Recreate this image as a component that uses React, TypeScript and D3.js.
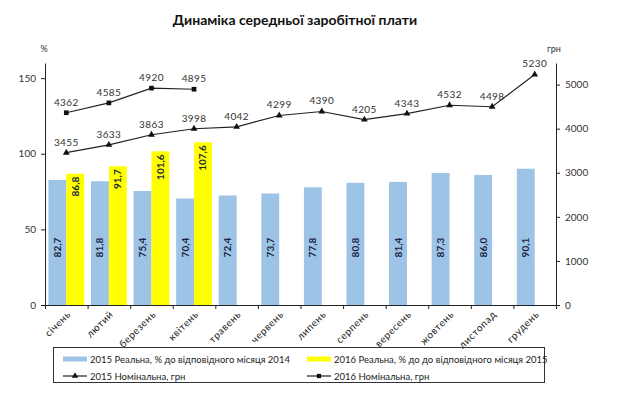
import * as d3 from 'd3'
import { useEffect, useRef } from 'react'

const months = [
  'січень', 'лютий', 'березень', 'квітень', 'травень', 'червень',
  'липень', 'серпень', 'вересень', 'жовтень', 'листопад', 'грудень',
]
const real2015 = [82.7, 81.8, 75.4, 70.4, 72.4, 73.7, 77.8, 80.8, 81.4, 87.3, 86.0, 90.1]
const real2016 = [86.8, 91.7, 101.6, 107.6]
const nominal2015 = [3455, 3633, 3863, 3998, 4042, 4299, 4390, 4205, 4343, 4532, 4498, 5230]
const nominal2016 = [4362, 4585, 4920, 4895]
const leftTicks = [0, 50, 100, 150]
const rightTicks = [0, 1000, 2000, 3000, 4000, 5000]

const FONT = 'Lato, "Open Sans", sans-serif'
const fmt = (v: number) => v.toFixed(1).replace('.', ',')

const App = () => {
  const ref = useRef<SVGSVGElement>(null)

  useEffect(() => {
    const svg = d3.select(ref.current)
    svg.selectAll('*').remove()

    const left = 45,
      right = 556,
      top = 63,
      bottom = 305

    const x = d3.scaleBand<string>().domain(months).range([left, right])
    const y = d3.scaleLinear().domain([0, 160]).range([bottom, top])
    const y2 = d3.scaleLinear().domain([0, 5490]).range([bottom, top])
    const bw = x.bandwidth() * 0.42
    const pad = (x.bandwidth() - 2 * bw) / 2

    svg
      .append('text')
      .attr('x', 295)
      .attr('y', 25)
      .attr('text-anchor', 'middle')
      .style('font', `bold 14px ${FONT}`)
      .attr('fill', '#111')
      .text('Динаміка середньої заробітної плати')

    // bars
    svg
      .append('g')
      .selectAll('rect')
      .data(real2015)
      .join('rect')
      .attr('x', (d, i) => x(months[i])! + pad)
      .attr('y', (d) => y(d))
      .attr('width', bw)
      .attr('height', (d) => bottom - y(d))
      .attr('fill', '#9dc3e6')

    svg
      .append('g')
      .selectAll('rect')
      .data(real2016)
      .join('rect')
      .attr('x', (d, i) => x(months[i])! + pad + bw)
      .attr('y', (d) => y(d))
      .attr('width', bw)
      .attr('height', (d) => bottom - y(d))
      .attr('fill', '#ffff00')

    // bar labels
    svg
      .append('g')
      .selectAll('text')
      .data(real2015)
      .join('text')
      .attr('transform', (d, i) => `translate(${x(months[i])! + pad + bw / 2 + 3.5},${y(38)}) rotate(-90)`)
      .attr('text-anchor', 'middle')
      .style('font', `bold 10px ${FONT}`)
      .attr('fill', '#1b2540')
      .text(fmt)

    svg
      .append('g')
      .selectAll('text')
      .data(real2016)
      .join('text')
      .attr('transform', (d, i) => `translate(${x(months[i])! + pad + bw * 1.5 + 3.5},${y(d) + 3}) rotate(-90)`)
      .attr('text-anchor', 'end')
      .style('font', `bold 10px ${FONT}`)
      .attr('fill', '#1b2540')
      .text(fmt)

    // axes
    const axisColor = '#222'
    const gl = svg.append('g').attr('transform', `translate(${left},0)`).call(d3.axisLeft(y).tickValues(leftTicks).tickSize(4).tickSizeOuter(0))
    const gr = svg
      .append('g')
      .attr('transform', `translate(${right},0)`)
      .call(d3.axisRight(y2).tickValues(rightTicks).tickFormat(d3.format('d')).tickSize(4).tickSizeOuter(0))
    const gx = svg
      .append('g')
      .attr('transform', `translate(0,${bottom})`)
      .call(d3.axisBottom(d3.scaleLinear().domain([0, 12]).range([left, right])).ticks(12).tickSize(4).tickFormat(() => ''))
    for (const g of [gl, gr, gx]) {
      g.select('.domain').attr('stroke', axisColor)
      g.selectAll('line').attr('stroke', axisColor)
      g.selectAll('text').style('font', `10px ${FONT}`).attr('fill', '#333')
    }
    gl.selectAll('text').attr('dx', -2)
    gr.selectAll('text').attr('dx', 2)

    svg.append('text').attr('x', 44).attr('y', 52).attr('text-anchor', 'middle').style('font', `9px ${FONT}`).attr('fill', '#333').text('%')
    svg.append('text').attr('x', 554).attr('y', 52).attr('text-anchor', 'middle').style('font', `9px ${FONT}`).attr('fill', '#333').text('грн')

    // month labels
    svg
      .append('g')
      .selectAll('text')
      .data(months)
      .join('text')
      .attr('transform', (d) => `translate(${x(d)! + x.bandwidth() / 2 + 5},${bottom + 10}) rotate(-45)`)
      .attr('text-anchor', 'end')
      .style('font', `10px ${FONT}`)
      .style('letter-spacing', '0.6px')
      .attr('fill', '#222')
      .text((d) => d)

    // lines
    const cx = (i: number) => x(months[i])! + x.bandwidth() / 2
    const line = d3
      .line<number>()
      .x((d, i) => cx(i))
      .y((d) => y2(d))

    const drawSeries = (data: number[], shape: d3.SymbolType) => {
      svg.append('path').datum(data).attr('d', line).attr('fill', 'none').attr('stroke', '#222').attr('stroke-width', 1.2)
      svg
        .append('g')
        .selectAll('path')
        .data(data)
        .join('path')
        .attr('transform', (d, i) => `translate(${cx(i)},${y2(d)})`)
        .attr('d', d3.symbol(shape, shape === d3.symbolSquare ? 22 : 20))
        .attr('fill', '#111')
      svg
        .append('g')
        .selectAll('text')
        .data(data)
        .join('text')
        .attr('x', (d, i) => cx(i))
        .attr('y', (d) => y2(d) - 7)
        .attr('text-anchor', 'middle')
        .style('font', `10px ${FONT}`)
        .style('letter-spacing', '0.4px')
        .attr('fill', '#333')
        .text((d) => d)
    }
    drawSeries(nominal2015, d3.symbolTriangle)
    drawSeries(nominal2016, d3.symbolSquare)

    // legend
    const lg = svg.append('g')
    lg.append('rect').attr('x', 53.5).attr('y', 347.5).attr('width', 491).attr('height', 35).attr('fill', 'none').attr('stroke', '#333')
    const items = [
      { kind: 'bar', color: '#9dc3e6', x: 63, y: 359, label: '2015 Реальна, % до відповідного місяця 2014' },
      { kind: 'bar', color: '#ffff00', x: 307, y: 359, label: '2016 Реальна, % до до відповідного місяця 2015' },
      { kind: 'line', shape: d3.symbolTriangle, x: 63, y: 376, label: '2015 Номінальна, грн' },
      { kind: 'line', shape: d3.symbolSquare, x: 307, y: 376, label: '2016 Номінальна, грн' },
    ]
    for (const it of items) {
      if (it.kind === 'bar') {
        lg.append('rect').attr('x', it.x).attr('y', it.y - 2.5).attr('width', 24).attr('height', 5).attr('fill', it.color!)
      } else {
        lg.append('line').attr('x1', it.x).attr('x2', it.x + 24).attr('y1', it.y).attr('y2', it.y).attr('stroke', '#222').attr('stroke-width', 1.2)
        lg.append('path').attr('transform', `translate(${it.x + 12},${it.y})`).attr('d', d3.symbol(it.shape!, 18)).attr('fill', '#111')
      }
      lg.append('text')
        .attr('x', it.x + 27)
        .attr('y', it.y + 3.5)
        .style('font', `9.5px ${FONT}`)
        .attr('fill', '#222')
        .text(it.label)
    }
  }, [])

  return <svg ref={ref} width={620} height={397} style={{ position: 'absolute', left: 0, top: 0, background: '#fff' }} />
}

export default App
